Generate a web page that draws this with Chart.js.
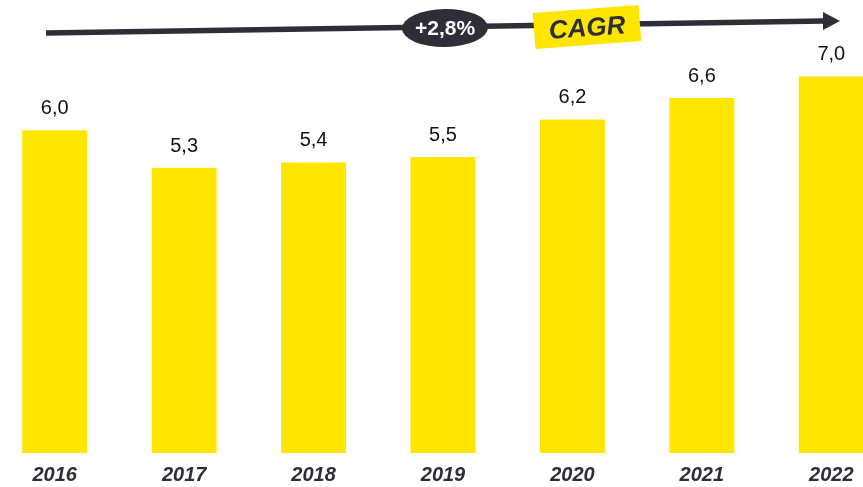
<!DOCTYPE html>
<html>
<head>
<meta charset="utf-8">
<script src="https://cdn.jsdelivr.net/npm/chart.js@4/dist/chart.umd.min.js"></script>
<style>
  html,body{margin:0;padding:0;background:#fff;overflow:hidden;}
  #wrap{position:absolute;left:-10px;top:0;width:906px;height:490px;}
</style>
</head>
<body>
<div id="wrap"><canvas id="chart"></canvas></div>
<script>
// data
const years = ['2016','2017','2018','2019','2020','2021','2022'];
const values = [6.0, 5.3, 5.4, 5.5, 6.2, 6.6, 7.0];
const cagrText = '+2,8%';
const cagrLabel = 'CAGR';

const YELLOW = '#FFE600';
const DARK = '#2e2e38';
const FONT = '"Liberation Sans", Arial, sans-serif';

// numbers above each bar, decimal comma
const valueLabels = {
  id:'valueLabels',
  afterDatasetsDraw(chart){
    const ctx = chart.ctx;
    const meta = chart.getDatasetMeta(0);
    ctx.save();
    ctx.font = '20px ' + FONT;
    ctx.fillStyle = '#111';
    ctx.textAlign = 'center';
    ctx.textBaseline = 'alphabetic';
    meta.data.forEach((bar,i)=>{
      ctx.fillText(values[i].toFixed(1).replace('.',','), bar.x, bar.y - 16);
    });
    ctx.restore();
  }
};

// growth arrow with the CAGR badge on top
const cagrArrow = {
  id:'cagrArrow',
  afterDraw(chart){
    const ctx = chart.ctx;
    const ox = 10; // canvas is shifted left by 10px
    const x0 = 46+ox, y0 = 33, x1 = 824+ox, y1 = 21;
    ctx.save();
    ctx.strokeStyle = DARK; ctx.fillStyle = DARK;
    ctx.lineWidth = 5.5;
    ctx.beginPath(); ctx.moveTo(x0,y0); ctx.lineTo(x1,y1); ctx.stroke();
    // arrow head
    ctx.beginPath();
    ctx.moveTo(823+ox,12); ctx.lineTo(840+ox,21); ctx.lineTo(823+ox,30);
    ctx.closePath(); ctx.fill();

    // ellipse with percentage
    ctx.beginPath();
    ctx.ellipse(445+ox,28,43,19,-0.015,0,Math.PI*2);
    ctx.fill();
    ctx.fillStyle = '#fff';
    ctx.font = 'bold 21px ' + FONT;
    ctx.textAlign = 'center'; ctx.textBaseline = 'middle';
    ctx.fillText(cagrText, 445+ox, 29);

    // tilted yellow tag
    ctx.translate(587+ox, 27);
    ctx.rotate(-0.075);
    ctx.fillStyle = YELLOW;
    ctx.fillRect(-53,-18,106,36);
    ctx.fillStyle = DARK;
    ctx.font = 'italic bold 26px ' + FONT;
    ctx.fillText(cagrLabel, 0, 2);
    ctx.restore();
  }
};

new Chart(document.getElementById('chart'), {
  type:'bar',
  data:{
    labels: years,
    datasets:[{
      data: values,
      backgroundColor: YELLOW,
      borderWidth: 0,
      barPercentage: 1,
      categoryPercentage: 0.502
    }]
  },
  options:{
    responsive:true,
    maintainAspectRatio:false,
    animation:false,
    layout:{padding:{top:0,bottom:1,left:0,right:0}},
    plugins:{legend:{display:false},tooltip:{enabled:false}},
    scales:{
      x:{
        grid:{display:false},
        border:{display:false},
        ticks:{
          padding:2,
          color:DARK,
          font:{family:FONT,size:20,style:'italic',weight:'bold'}
        }
      },
      y:{display:false,min:0,max:8.42}
    }
  },
  plugins:[valueLabels, cagrArrow]
});
</script>
</body>
</html>
